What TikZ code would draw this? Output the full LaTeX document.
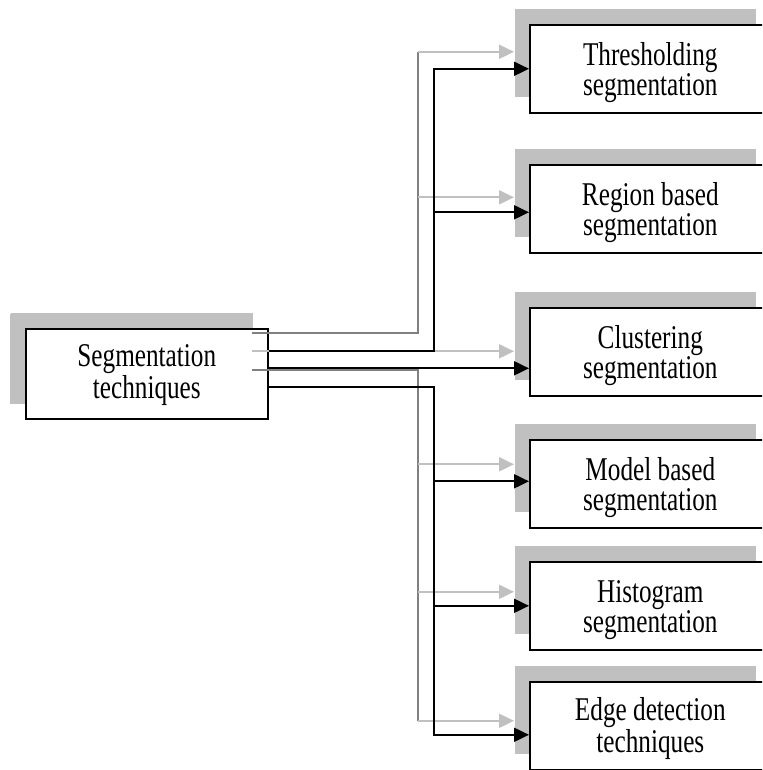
\documentclass[tikz,border=0pt]{standalone}
\usepackage{fontspec}
\setmainfont{Liberation Serif}[FakeStretch=0.76]
\usetikzlibrary{arrows.meta,calc,shadows}

\definecolor{shade}{HTML}{C0C0C0}
\definecolor{midgray}{HTML}{808080}

\begin{document}
\begin{tikzpicture}[x=0.5pt,y=-0.5pt,
  box/.style={draw=black, line width=0.8pt, fill=white,
    minimum width=120.5pt, minimum height=44pt, inner sep=0pt,
    align=center, anchor=north west,
    text height=31pt, text depth=4pt,
    font=\fontsize{16.6}{15}\selectfont,
    drop shadow={shadow xshift=-7.5pt, shadow yshift=8pt, fill=shade, opacity=1}},
  tip/.style={-{Triangle[length=7.5pt,width=7pt]}},
  blk/.style={draw=black, line width=1pt},
  mline/.style={draw=midgray, line width=1pt},
  lline/.style={draw=shade, line width=1pt},
]
\useasboundingbox (0,0) rectangle (762,770);
\clip (0,0) rectangle (762,770);

% boxes with their shadows
\node[box, minimum width=121pt, minimum height=45pt, text height=29pt,
      drop shadow={shadow xshift=-8pt, shadow yshift=7.5pt, fill=shade, opacity=1}]
      (main) at (25,328) {Segmentation\\techniques};
\node[box] (thr) at (529,24)  {Thresholding\\segmentation};
\node[box] (reg) at (529,164) {Region based\\segmentation};
\node[box] (clu) at (529,307) {Clustering\\segmentation};
\node[box] (mod) at (529,439) {Model based\\segmentation};
\node[box] (his) at (529,561) {Histogram\\segmentation};
\node[box] (edg) at (529,681) {Edge detection\\techniques};

% entry points of the black arrows
\coordinate (thr-b) at ($(thr.west)+(0,0)$);
\coordinate (reg-b) at ($(reg.west)+(0,3.5)$);
\coordinate (clu-b) at ($(clu.west)+(0,16.5)$);
\coordinate (mod-b) at ($(mod.west)+(0,-2.5)$);
\coordinate (his-b) at ($(his.west)+(0,0)$);
\coordinate (edg-b) at ($(edg.west)+(0,9)$);
% entry points of the grey arrows
\coordinate (thr-g) at ($(thr-b)+(-15,-17)$);
\coordinate (reg-g) at ($(reg-b)+(-15,-15)$);
\coordinate (clu-g) at ($(clu-b)+(-15,-17)$);
\coordinate (mod-g) at ($(mod-b)+(-15,-17)$);
\coordinate (his-g) at ($(his-b)+(-15,-14)$);
\coordinate (edg-g) at ($(edg-b)+(-15,-14)$);

% trunk corners
\coordinate (bUp) at (434,351);
\coordinate (bDn) at (434,387);
\coordinate (gUp) at (418,333);
\coordinate (gDn) at (418,370);
\coordinate (msh) at ($(main.north east)+(-17,0)$);

% grey connectors
\draw[mline] (msh |- gUp) -- (gUp) -- (gUp |- thr-g);
\draw[lline, tip] (gUp |- thr-g) -- (thr-g);
\draw[lline, tip] (gUp |- reg-g) -- (reg-g);
\draw[lline, tip] (msh |- clu-g) -- (clu-g);
\draw[mline] (msh |- gDn) -- (gDn) -- (gDn |- edg-g);
\draw[lline, tip] (gDn |- mod-g) -- (mod-g);
\draw[lline, tip] (gDn |- his-g) -- (his-g);
\draw[lline, tip] (gDn |- edg-g) -- (edg-g);

% black connectors
\draw[blk, tip] (main.east |- bUp) -- (bUp) |- (thr-b);
\draw[blk, tip] (bUp |- reg-b) -- (reg-b);
\draw[blk, tip] (main.east |- clu-b) -- (clu-b);
\draw[blk, tip] (main.east |- bDn) -- (bDn) |- (edg-b);
\draw[blk, tip] (bDn |- mod-b) -- (mod-b);
\draw[blk, tip] (bDn |- his-b) -- (his-b);
\end{tikzpicture}
\end{document}
